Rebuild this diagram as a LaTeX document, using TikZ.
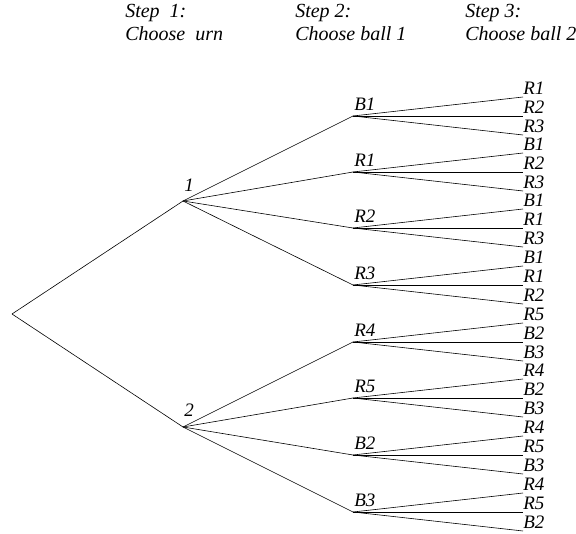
\documentclass[tikz,border=0pt]{standalone}
\usepackage{fontspec}
\setmainfont{Liberation Serif}
\newcommand{\ballFont}[0]{\fontsize{19}{23}\selectfont\itshape}
\newcommand{\headFont}[0]{\fontsize{20}{23}\selectfont\itshape}

\begin{document}
\begin{tikzpicture}[x=1pt, y=-1pt, line width=0.6pt]
  \tikzset{every node/.style={font=\ballFont, inner sep=1pt},
    ball label/.style={anchor=south west},
    head label/.style={anchor=north west, align=left, font=\headFont}}
  \useasboundingbox (0,0) rectangle (576,534);
  % column heads
  \node[head label] (head1) at (124,3) {Step\ \ 1:\\Choose\ \ urn};
  \node[head label] (head2) at (294,3) {Step 2:\\Choose ball 1};
  \node[head label] (head3) at (464,3) {Step 3:\\Choose ball 2};
  % urns
  \coordinate (root) at (12,314);
  \coordinate (urn1) at (183,201);
  \coordinate (urn2) at (183,427);
  \node[ball label, yshift=8pt] (urn1 label) at (urn1) {1};
  \node[ball label, yshift=9pt] (urn2 label) at (urn2) {2};
  \draw (root) -- (urn1);
  \draw (root) -- (urn2);
  % first ball
  \foreach \name/\y/\urn [count=\i] in {B1/116/1, R1/172/1, R2/228/1, R3/285/1,
      R4/342/2, R5/398/2, B2/455/2, B3/512/2} {
    \coordinate (first\i) at (353,\y);
    \node[ball label, yshift=4pt] (first\i label) at (first\i) {\name};
    \draw (urn\urn) -- (first\i);
  }
  % second ball
  \foreach \i/\names in {1/{R1,R2,R3}, 2/{B1,R2,R3}, 3/{B1,R1,R3}, 4/{B1,R1,R2},
      5/{R5,B2,B3}, 6/{R4,B2,B3}, 7/{R4,R5,B3}, 8/{R4,R5,B2}} {
    \foreach \name [count=\j] in \names {
      \coordinate (second\i-\j) at ([shift={(170,{19*\j-38})}]first\i);
      \node[ball label, xshift=-1pt, yshift=1pt] (second\i-\j label) at (second\i-\j) {\name};
      \draw (first\i) -- (second\i-\j);
    }
  }
\end{tikzpicture}
\end{document}
